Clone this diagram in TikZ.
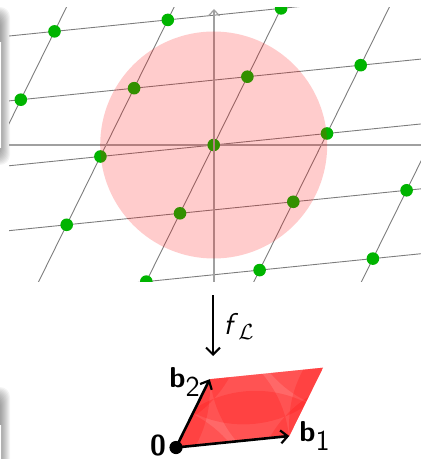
\documentclass[tikz,border=0pt]{standalone}
\usetikzlibrary{arrows.meta}
\definecolor{dotgreen}{RGB}{0,180,0}
\definecolor{latgray}{RGB}{125,125,125}
\definecolor{axgray}{RGB}{160,160,160}
\tikzset{
  latline/.style={draw=latgray,line width=0.45pt},
  axisline/.style={draw=axgray,line width=0.7pt},
  latdot/.style={fill=dotgreen},
  foldpiece/.style={fill=red,opacity=0.2},
  vecarrow/.style={draw=black,line width=1.3pt,-{Straight Barb[length=3.5pt,width=6.5pt,line width=1.1pt]}},
  maparrow/.style={draw=black,line width=1pt,-{Straight Barb[length=3.5pt,width=7pt,line width=1pt]}},
  lbl/.style={font=\fontsize{14.4}{16}\selectfont\sffamily, inner sep=0pt},
  shadowpiece/.style={fill=black,opacity=0.045,rounded corners=5pt}
}
\begin{document}
\begin{tikzpicture}[x=0.5pt,y=-0.5pt]
\useasboundingbox (0,0) rectangle (420,459);
% left frame shadows
\foreach \k in {1,...,10} {
  \fill[shadowpiece] (-40,{6+\k}) rectangle ({11-\k},{166-\k});
  \fill[shadowpiece] (-40,{386+\k}) rectangle ({11-\k},480);
}
\fill[white] (-40,42) rectangle (1.5,148);
\draw[gray!60,line width=0.3pt] (1.5,42) -- (1.5,148);
\fill[white] (-40,425) rectangle (1.5,480);
\draw[gray!60,line width=0.3pt] (1.5,425) -- (1.5,480);
% upper lattice
\coordinate (O) at (213.7,145);
\begin{scope}
  \clip (9,8) rectangle (425,281.5);
  \foreach \j in {-5,...,5} {
    \draw[latline] ({213.7+33.7*\j-113.3*5},{145-68.3*\j+11.5*5}) -- ({213.7+33.7*\j+113.3*5},{145-68.3*\j-11.5*5});
  }
  \foreach \i in {-5,...,5} {
    \draw[latline] ({213.7+113.3*\i-33.7*5},{145-11.5*\i+68.3*5}) -- ({213.7+113.3*\i+33.7*5},{145-11.5*\i-68.3*5});
  }
  \draw[axisline] (9,145) -- (425,145);
  \foreach \i in {-3,...,3} {
    \foreach \j in {-3,...,3} {
      \fill[latdot] ({213.7+113.3*\i+33.7*\j},{145-11.5*\i-68.3*\j}) circle[radius=3.15pt];
    }
  }
\end{scope}
\coordinate (axbot) at (214,281.5);
\coordinate (axtop) at (214,9);
\draw[axisline,-{Straight Barb[length=3pt,width=5.5pt,line width=0.6pt]}] (axbot) -- (axtop);
\fill[foldpiece] (O) circle[radius=56.75pt];
% map arrow
\coordinate (mtop) at (213,295);
\coordinate (mbot) at (213,356);
\draw[maparrow] (mtop) -- (mbot);
\node[lbl,font=\fontsize{15}{17}\selectfont] (fl) at (239,326) {\textsf{\textit{f}}$_{\mathcal{L}}$};
% fundamental domain
\coordinate (P0) at (176,447.5);
\coordinate (P1) at (289.3,436);
\coordinate (P2) at (209.7,379.2);
\coordinate (P3) at (323,367.7);
\begin{scope}
  \clip (P0) -- (P1) -- (P3) -- (P2) -- cycle;
  \foreach \i in {-3,...,3} {
    \foreach \j in {-3,...,3} {
      \fill[foldpiece] ({176+113.3*\i+33.7*\j},{447.5-11.5*\i-68.3*\j}) circle[radius=56.75pt];
    }
  }
\end{scope}
\draw[vecarrow] (P0) -- (P1);
\draw[vecarrow] (P0) -- (P2);
\fill (P0) circle[radius=3.3pt];
\node[lbl] (zero) at (158,445.5) {\textbf{0}};
\node[lbl] (b2) at (185,382) {\textbf{b}$_{\textsf{2}}$};
\node[lbl] (b1) at (315,436) {\textbf{b}$_{\textsf{1}}$};
\end{tikzpicture}
\end{document}
